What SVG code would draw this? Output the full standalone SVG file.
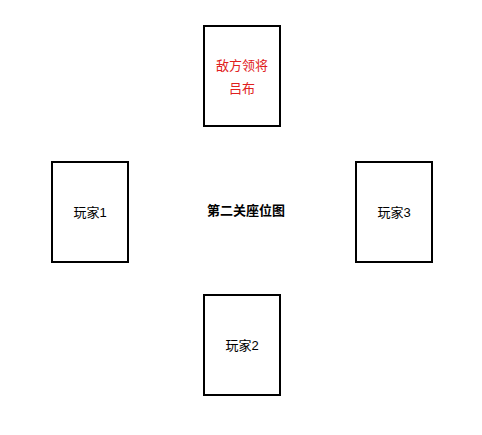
<svg xmlns="http://www.w3.org/2000/svg" width="482" height="435" viewBox="0 0 482 435">
<style>
.box{fill:#fff;stroke:#000;stroke-width:2}
.t{font-family:"Liberation Sans","Noto Sans CJK SC",sans-serif;font-size:13px;text-anchor:middle;dominant-baseline:central;fill:#000}
.red{fill:#e02020}
.b{font-weight:bold}
</style>
<rect width="482" height="435" fill="#fff"/>
<g id="connectors"></g>
<g id="enemy">
<rect class="box" x="204" y="26" width="76" height="100"/>
<text class="t red" x="242" y="65">敌方领将</text>
<text class="t red" x="242" y="88">吕布</text>
</g>
<g id="player1">
<rect class="box" x="52" y="162" width="76" height="100"/>
<text class="t" x="90" y="212">玩家1</text>
</g>
<g id="title">
<text class="t b" x="246" y="210">第二关座位图</text>
</g>
<g id="player3">
<rect class="box" x="356" y="162" width="76" height="100"/>
<text class="t" x="394" y="212">玩家3</text>
</g>
<g id="player2">
<rect class="box" x="204" y="295" width="76" height="100"/>
<text class="t" x="242" y="345">玩家2</text>
</g>
</svg>
